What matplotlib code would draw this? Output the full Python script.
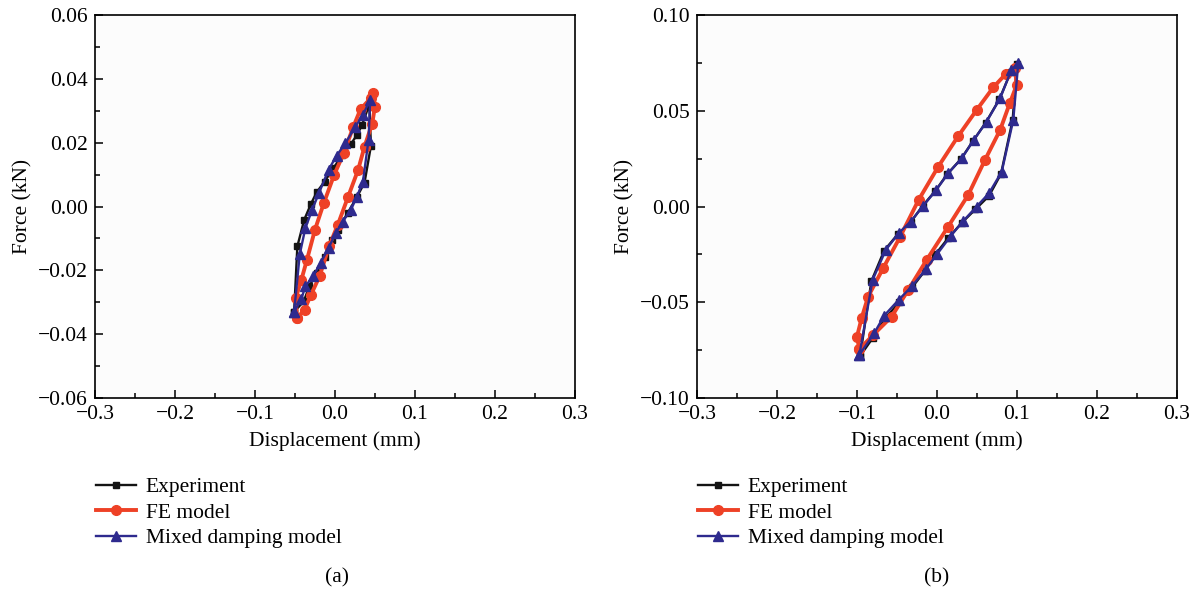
import matplotlib
matplotlib.use("Agg")
import matplotlib.pyplot as plt
from matplotlib.ticker import MultipleLocator, FuncFormatter

plt.rcParams['font.family'] = ['Liberation Serif', 'DejaVu Serif']
plt.rcParams['font.size'] = 15.5

# ---------------------------------------------------------------------------
# Data
# ---------------------------------------------------------------------------

# (a) small amplitude
exp_a_x = [-0.051, -0.047, -0.0385, -0.030, -0.023, -0.013, -0.002, 0.009, 0.020, 0.0275, 0.034, 0.043,
           0.045, 0.037, 0.0275, 0.016, 0.0036, -0.0036, -0.013, -0.023, -0.032, -0.039, -0.051]
exp_a_y = [-0.033, -0.0125, -0.0042, 0.0008, 0.0044, 0.0078, 0.012, 0.016, 0.0196, 0.0224, 0.0256, 0.032,
           0.019, 0.0075, 0.003, -0.002, -0.0073, -0.0104, -0.0157, -0.0209, -0.025, -0.0297, -0.033]

fe_a_x = [-0.0475, -0.049, -0.042, -0.035, -0.025, -0.014, -0.001, 0.011, 0.023, 0.032, 0.045, 0.048,
          0.050, 0.0466, 0.037, 0.029, 0.0165, 0.0036, -0.0074, -0.019, -0.030, -0.038, -0.0475]
fe_a_y = [-0.035, -0.0287, -0.023, -0.0167, -0.0073, 0.001, 0.0099, 0.0167, 0.025, 0.0305, 0.034, 0.0355,
          0.0313, 0.026, 0.0188, 0.0115, 0.0031, -0.0057, -0.0125, -0.0217, -0.0277, -0.0323, -0.035]

mix_a_x = [-0.051, -0.044, -0.037, -0.0285, -0.020, -0.008, 0.002, 0.013, 0.025, 0.035, 0.044,
           0.042, 0.035, 0.0275, 0.020, 0.0098, 0.001, -0.008, -0.018, -0.0275, -0.037, -0.042, -0.051]
mix_a_y = [-0.033, -0.015, -0.0068, -0.001, 0.0042, 0.0115, 0.0159, 0.0198, 0.0248, 0.0287, 0.0334,
           0.0209, 0.0078, 0.0031, -0.001, -0.0047, -0.0083, -0.013, -0.0177, -0.0219, -0.025, -0.029, -0.033]

# (b) larger amplitude
exp_b_x = [-0.096, -0.082, -0.066, -0.049, -0.033, -0.018, -0.002, 0.013, 0.030, 0.045, 0.061, 0.078, 0.092,
           0.100, 0.0946, 0.080, 0.065, 0.048, 0.031, 0.014, -0.002, -0.015, -0.031, -0.047, -0.064, -0.080, -0.096]
exp_b_y = [-0.078, -0.039, -0.023, -0.0145, -0.0083, 0.0003, 0.0082, 0.017, 0.0248, 0.0342, 0.0438, 0.056, 0.070,
           0.0745, 0.0452, 0.017, 0.0055, -0.0015, -0.0085, -0.0165, -0.025, -0.0335, -0.0422, -0.050, -0.058,
           -0.0685, -0.078]

fe_b_x = [-0.097, -0.100, -0.094, -0.086, -0.067, -0.046, -0.023, 0.0016, 0.0266, 0.0496, 0.0704, 0.086, 0.0975,
          0.0996, 0.091, 0.079, 0.060, 0.039, 0.014, -0.0129, -0.036, -0.0566, -0.0796, -0.097]
fe_b_y = [-0.0745, -0.068, -0.058, -0.047, -0.032, -0.0158, 0.0034, 0.0208, 0.0368, 0.0504, 0.0622, 0.0692, 0.0722,
          0.0634, 0.0539, 0.040, 0.0243, 0.006, -0.0105, -0.0279, -0.0436, -0.0575, -0.067, -0.0745]

mix_b_x = [-0.097, -0.0805, -0.064, -0.048, -0.033, -0.017, -0.001, 0.014, 0.031, 0.046, 0.062, 0.079, 0.093,
           0.1017, 0.0954, 0.081, 0.065, 0.0496, 0.033, 0.017, 0.000, -0.014, -0.031, -0.048, -0.066, -0.0785, -0.097]
mix_b_y = [-0.0775, -0.0384, -0.0227, -0.014, -0.0079, 0.0004, 0.0086, 0.0173, 0.0252, 0.0347, 0.0443, 0.0565, 0.0713,
           0.0751, 0.0452, 0.0182, 0.0069, 0.0, -0.0075, -0.0155, -0.025, -0.0328, -0.0415, -0.0488, -0.057,
           -0.0662, -0.0775]

labels = ["Experiment", "FE model", "Mixed damping model"]
c_exp, c_fe, c_mix = "#141414", "#EE4126", "#2E2A8E"


def minus_fmt(fmt):
    return FuncFormatter(lambda v, p: (fmt % v).replace('-', '\u2212'))


def draw_panel(ax, ex, ey, fx, fy, mx, my, ylim, ymajor, yfmt):
    ax.plot(ex, ey, '-s', color=c_exp, lw=1.7, ms=5, label=labels[0])
    ax.plot(fx, fy, '-o', color=c_fe, lw=2.8, ms=7, label=labels[1])
    ax.plot(mx, my, '-^', color=c_mix, lw=1.7, ms=6.5, label=labels[2])
    ax.set_xlim(-0.3, 0.3)
    ax.set_ylim(*ylim)
    ax.set_facecolor('#fcfcfc')
    ax.xaxis.set_major_locator(MultipleLocator(0.1))
    ax.xaxis.set_minor_locator(MultipleLocator(0.05))
    ax.yaxis.set_major_locator(MultipleLocator(ymajor))
    ax.yaxis.set_minor_locator(MultipleLocator(ymajor / 2))
    ax.xaxis.set_major_formatter(minus_fmt('%.1f'))
    ax.yaxis.set_major_formatter(minus_fmt(yfmt))
    ax.tick_params(which='major', direction='in', length=6, width=1.1, labelsize=15.5, pad=5)
    ax.tick_params(which='minor', direction='in', length=3.5, width=1.1)
    for s in ax.spines.values():
        s.set_linewidth(1.2)
    ax.set_xlabel("Displacement (mm)", fontsize=15.5, labelpad=5)
    ax.set_ylabel("Force (kN)", fontsize=15.5, labelpad=4)
    ax.legend(loc='upper left', bbox_to_anchor=(ax.get_position().x0 + 0.001, 0.195),
              bbox_transform=fig.transFigure, frameon=False, handlelength=1.85,
              handletextpad=0.45, labelspacing=0.25, fontsize=15.5, borderaxespad=0,
              borderpad=0)


fig = plt.figure(figsize=(11.99, 5.93), dpi=100)
ax1 = fig.add_axes([0.0792, 0.3288, 0.4003, 0.6459])
ax2 = fig.add_axes([0.5813, 0.3288, 0.4003, 0.6459])

draw_panel(ax1, exp_a_x, exp_a_y, fe_a_x, fe_a_y, mix_a_x, mix_a_y, (-0.06, 0.06), 0.02, '%.2f')
draw_panel(ax2, exp_b_x, exp_b_y, fe_b_x, fe_b_y, mix_b_x, mix_b_y, (-0.10, 0.10), 0.05, '%.2f')

fig.text(337 / 1199, 1 - 578 / 593, "(a)", ha='center', va='center', fontsize=15.5)
fig.text(937 / 1199, 1 - 578 / 593, "(b)", ha='center', va='center', fontsize=15.5)

fig.savefig("out.png", dpi=100)
